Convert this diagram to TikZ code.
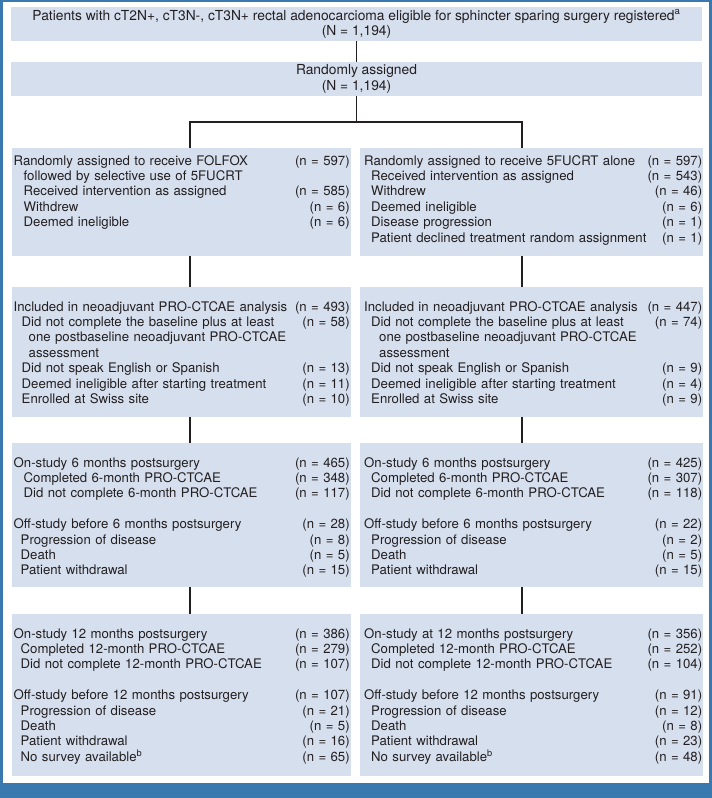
\documentclass[tikz,border=0pt]{standalone}
\usepackage{fontspec}
\setmainfont{TeX Gyre Heros}
\usetikzlibrary{positioning}

\definecolor{framecol}{RGB}{58,120,176}
\definecolor{boxfill}{RGB}{214,223,238}
\definecolor{inkcol}{RGB}{35,31,32}

% one line of a box: indent, label, count
\newcommand{\rowline}[3]{\noindent\hbox to\linewidth{\hspace*{#1}#2\hfill\hspace{3pt}#3}\par}

\begin{document}
\begin{tikzpicture}[x=1pt,y=-1pt,
    box/.style={fill=boxfill, draw=none, inner sep=0pt, anchor=north west},
    wide/.style={fill=boxfill, draw=none, inner sep=0pt, minimum width=691, minimum height=34,
      align=center, text=inkcol, font=\fontsize{13.8}{15.4}\selectfont},
    txt/.style={inner sep=0pt, anchor=north west, text width=#1, text=inkcol,
      font=\fontsize{13.2}{15.4}\selectfont},
    link/.style={draw=inkcol, line width=1.3pt}]
    % Draw frame
    \fill[framecol] (0,0) rectangle (712,798);
    \fill[white] (3,2) rectangle (709,783);

    % Draw top boxes
    \node[wide] (reg) at (356.5,24) {Patients with cT2N+, cT3N-, cT3N+ rectal adenocarcioma eligible for sphincter sparing surgery registered\textsuperscript{a}\\(N = 1,194)};
    \node[wide] (rand) at (356.5,79) {Randomly assigned\\(N = 1,194)};

    % Draw arm boxes
    \node[box, minimum width=339, minimum height=108] (l1) at (12,148) {};
    \node[box, minimum width=343, minimum height=108] (r1) at (360,148) {};
    \node[box, minimum width=339, minimum height=130] (l2) at (12,287) {};
    \node[box, minimum width=343, minimum height=130] (r2) at (360,287) {};
    \node[box, minimum width=339, minimum height=144] (l3) at (12,443) {};
    \node[box, minimum width=343, minimum height=144] (r3) at (360,443) {};
    \node[box, minimum width=339, minimum height=162] (l4) at (12,614) {};
    \node[box, minimum width=343, minimum height=162] (r4) at (360,614) {};

    % Draw connectors
    \coordinate (split) at (356.5,122);
    \coordinate (lsplit) at (190,122);
    \coordinate (rsplit) at (522,122);
    \draw[link] (reg.south) -- (rand.north);
    \draw[link] (rand.south) -- (split);
    \draw[link] (lsplit |- l1.north) -- (lsplit) -- (rsplit) -- (rsplit |- r1.north);
    \draw[link] (l1.south -| lsplit) -- (l2.north -| lsplit);
    \draw[link] (l2.south -| lsplit) -- (l3.north -| lsplit);
    \draw[link] (l3.south -| lsplit) -- (l4.north -| lsplit);
    \draw[link] (r1.south -| rsplit) -- (r2.north -| rsplit);
    \draw[link] (r2.south -| rsplit) -- (r3.north -| rsplit);
    \draw[link] (r3.south -| rsplit) -- (r4.north -| rsplit);

    % Add texts of row 1
    \node[txt=336] (l1t) at ([shift={(1.5,7)}]l1.north west) {%
      \rowline{0pt}{Randomly assigned to receive FOLFOX}{(n = 597)}
      \rowline{10pt}{followed by selective use of 5FUCRT}{}
      \rowline{10pt}{Received intervention as assigned}{(n = 585)}
      \rowline{10pt}{Withdrew}{(n = 6)}
      \rowline{10pt}{Deemed ineligible}{(n = 6)}};
    \node[txt=338] (r1t) at ([shift={(4,7)}]r1.north west) {%
      \rowline{0pt}{Randomly assigned to receive 5FUCRT alone}{(n = 597)}
      \rowline{7pt}{Received intervention as assigned}{(n = 543)}
      \rowline{7pt}{Withdrew}{(n = 46)}
      \rowline{7pt}{Deemed ineligible}{(n = 6)}
      \rowline{7pt}{Disease progression}{(n = 1)}
      \rowline{7pt}{Patient declined treatment random assignment}{(n = 1)}};

    % Add texts of row 2
    \node[txt=336] (l2t) at ([shift={(1.5,14)}]l2.north west) {%
      \rowline{0pt}{Included in neoadjuvant PRO-CTCAE analysis}{(n = 493)}
      \rowline{8pt}{Did not complete the baseline plus at least}{(n = 58)}
      \rowline{15pt}{one postbaseline neoadjuvant PRO-CTCAE}{}
      \rowline{15pt}{assessment}{}
      \rowline{8pt}{Did not speak English or Spanish}{(n = 13)}
      \rowline{8pt}{Deemed ineligible after starting treatment}{(n = 11)}
      \rowline{8pt}{Enrolled at Swiss site}{(n = 10)}};
    \node[txt=338] (r2t) at ([shift={(4,14)}]r2.north west) {%
      \rowline{0pt}{Included in neoadjuvant PRO-CTCAE analysis}{(n = 447)}
      \rowline{7pt}{Did not complete the baseline plus at least}{(n = 74)}
      \rowline{15pt}{one postbaseline neoadjuvant PRO-CTCAE}{}
      \rowline{15pt}{assessment}{}
      \rowline{7pt}{Did not speak English or Spanish}{(n = 9)}
      \rowline{7pt}{Deemed ineligible after starting treatment}{(n = 4)}
      \rowline{7pt}{Enrolled at Swiss site}{(n = 9)}};

    % Add texts of row 3
    \node[txt=336] (l3t) at ([shift={(1.5,14)}]l3.north west) {%
      \rowline{0pt}{On-study 6 months postsurgery}{(n = 465)}
      \rowline{10pt}{Completed 6-month PRO-CTCAE}{(n = 348)}
      \rowline{10pt}{Did not complete 6-month PRO-CTCAE}{(n = 117)}
      \rowline{0pt}{}{}
      \rowline{0pt}{Off-study before 6 months postsurgery}{(n = 28)}
      \rowline{7pt}{Progression of disease}{(n = 8)}
      \rowline{7pt}{Death}{(n = 5)}
      \rowline{7pt}{Patient withdrawal}{(n = 15)}};
    \node[txt=338] (r3t) at ([shift={(4,14)}]r3.north west) {%
      \rowline{0pt}{On-study 6 months postsurgery}{(n = 425)}
      \rowline{7pt}{Completed 6-month PRO-CTCAE}{(n = 307)}
      \rowline{7pt}{Did not complete 6-month PRO-CTCAE}{(n = 118)}
      \rowline{0pt}{}{}
      \rowline{0pt}{Off-study before 6 months postsurgery}{(n = 22)}
      \rowline{7pt}{Progression of disease}{(n = 2)}
      \rowline{7pt}{Death}{(n = 5)}
      \rowline{7pt}{Patient withdrawal}{(n = 15)}};

    % Add texts of row 4
    \node[txt=336] (l4t) at ([shift={(1.5,14)}]l4.north west) {%
      \rowline{0pt}{On-study 12 months postsurgery}{(n = 386)}
      \rowline{7pt}{Completed 12-month PRO-CTCAE}{(n = 279)}
      \rowline{7pt}{Did not complete 12-month PRO-CTCAE}{(n = 107)}
      \rowline{0pt}{}{}
      \rowline{0pt}{Off-study before 12 months postsurgery}{(n = 107)}
      \rowline{7pt}{Progression of disease}{(n = 21)}
      \rowline{7pt}{Death}{(n = 5)}
      \rowline{7pt}{Patient withdrawal}{(n = 16)}
      \rowline{7pt}{No survey available\textsuperscript{b}}{(n = 65)}};
    \node[txt=338] (r4t) at ([shift={(4,14)}]r4.north west) {%
      \rowline{0pt}{On-study at 12 months postsurgery}{(n = 356)}
      \rowline{7pt}{Completed 12-month PRO-CTCAE}{(n = 252)}
      \rowline{7pt}{Did not complete 12-month PRO-CTCAE}{(n = 104)}
      \rowline{0pt}{}{}
      \rowline{0pt}{Off-study before 12 months postsurgery}{(n = 91)}
      \rowline{7pt}{Progression of disease}{(n = 12)}
      \rowline{7pt}{Death}{(n = 8)}
      \rowline{7pt}{Patient withdrawal}{(n = 23)}
      \rowline{7pt}{No survey available\textsuperscript{b}}{(n = 48)}};
\end{tikzpicture}
\end{document}
